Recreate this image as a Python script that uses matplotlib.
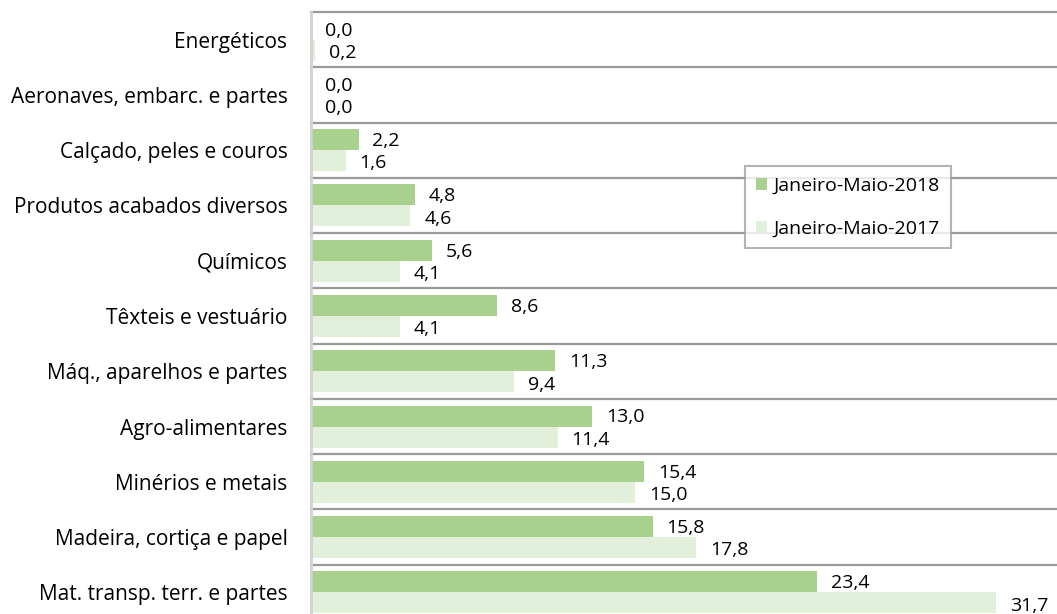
import matplotlib
matplotlib.use("Agg")
import matplotlib.pyplot as plt
import numpy as np

# dados (de cima para baixo)
categorias = ['Energéticos', 'Aeronaves, embarc. e partes', 'Calçado, peles e couros',
              'Produtos acabados diversos', 'Químicos', 'Têxteis e vestuário',
              'Máq., aparelhos e partes', 'Agro-alimentares', 'Minérios e metais',
              'Madeira, cortiça e papel', 'Mat. transp. terr. e partes']
v2018 = [0.0, 0.0, 2.2, 4.8, 5.6, 8.6, 11.3, 13.0, 15.4, 15.8, 23.4]
v2017 = [0.2, 0.0, 1.6, 4.6, 4.1, 4.1, 9.4, 11.4, 15.0, 17.8, 31.7]

cor18 = '#A9D18E'
cor17 = '#E2EFDA'

plt.rcParams['font.family'] = ['Open Sans', 'DejaVu Sans']

fig = plt.figure(figsize=(10.57, 6.14), dpi=100)
ax = fig.add_axes([311/1057, 1 - 620/614, 1 - 311/1057, 608/614])

y = np.arange(len(categorias))
h = 0.38
ax.barh(y - h/2, v2018, height=h, color=cor18, label='Janeiro-Maio-2018', zorder=2)
ax.barh(y + h/2, v2017, height=h, color=cor17, label='Janeiro-Maio-2017', zorder=2)

def fmt(v):
    return ('%.1f' % v).replace('.', ',')

for i in range(len(categorias)):
    ax.annotate(fmt(v2018[i]), (v2018[i], y[i] - h/2), xytext=(10, -1),
                textcoords='offset points', va='center', ha='left', fontsize=14)
    ax.annotate(fmt(v2017[i]), (v2017[i], y[i] + h/2), xytext=(10, -2),
                textcoords='offset points', va='center', ha='left', fontsize=14)

# linhas de separação
for b in np.arange(-0.5, len(categorias) + 0.5, 1):
    ax.axhline(b, color='#9A9A9A', lw=1.6, zorder=1, clip_on=False)

ax.set_xlim(0, 34.5)
ax.set_ylim(len(categorias) - 0.5, -0.5)
ax.set_yticks(y)
ax.set_yticklabels(categorias, fontsize=15)
ax.tick_params(axis='y', length=0, pad=17)
ax.set_xticks([])
for s in ['top', 'right', 'bottom']:
    ax.spines[s].set_visible(False)
ax.spines['left'].set_color('#D0D0D0')
ax.spines['left'].set_linewidth(2)
ax.spines['left'].set_zorder(3)

leg = ax.legend(loc='upper left', bbox_to_anchor=(745/1057, 1 - 166/614),
                bbox_transform=fig.transFigure, borderaxespad=0, fontsize=14,
                frameon=True, fancybox=False, handlelength=0.57, handleheight=0.57,
                handletextpad=0.35, labelspacing=1.27, borderpad=0.55)
leg.get_frame().set_edgecolor('#A0A0A0')
leg.get_frame().set_linewidth(1.5)
leg.set_zorder(5)

fig.savefig('out.png', dpi=100)
